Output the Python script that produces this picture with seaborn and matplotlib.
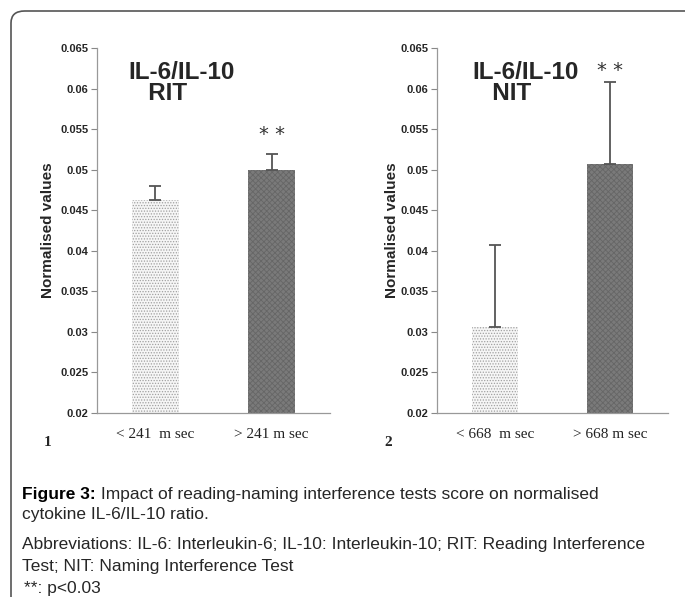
import matplotlib
matplotlib.use("Agg")
import matplotlib.pyplot as plt
import seaborn as sns
import pandas as pd
from matplotlib.patches import FancyBboxPatch

sns.set_style("white")
plt.rcParams['font.family'] = ['Liberation Sans', 'DejaVu Sans']
plt.rcParams['hatch.linewidth'] = 0.6

# data
rit_categories = ["< 241  m sec", "> 241 m sec"]
rit_values = [0.0462, 0.0500]
rit_errors = [0.0018, 0.0019]
nit_categories = ["< 668  m sec", "> 668 m sec"]
nit_values = [0.0306, 0.0507]
nit_errors = [0.0101, 0.0101]
y_ticks = [0.02, 0.025, 0.03, 0.035, 0.04, 0.045, 0.05, 0.055, 0.06, 0.065]
y_ticklabels = ["0.02", "0.025", "0.03", "0.035", "0.04", "0.045", "0.05", "0.055", "0.06", "0.065"]

fig = plt.figure(figsize=(6.85, 5.97), dpi=100)

# border
border = FancyBboxPatch((11/685, -0.05), 1.2, 1 - 11/597 + 0.05,
                        boxstyle="round,pad=0,rounding_size=0.02",
                        transform=fig.transFigure, fill=False,
                        edgecolor="#555555", linewidth=1.2, clip_on=False)
fig.patches.append(border)

panels = [
    dict(pos=[97/685, 1-413/597, 233/685, 365/597], cats=rit_categories, vals=rit_values,
         errs=rit_errors, title="IL-6/IL-10\n   RIT", tx=(128-97)/233,
         star_x=1, star_y=0.0543, num="1", ylab_x=-0.18),
    dict(pos=[437/685, 1-413/597, 231/685, 365/597], cats=nit_categories, vals=nit_values,
         errs=nit_errors, title="IL-6/IL-10\n   NIT", tx=(472-437)/231,
         star_x=1, star_y=0.0622, num="2", ylab_x=-0.165),
]

for p in panels:
    ax = fig.add_axes(p["pos"])
    df = pd.DataFrame({"cat": p["cats"], "val": p["vals"]})
    sns.barplot(data=df, x="cat", y="val", ax=ax, width=0.4,
                palette=["#f6f6f6", "#7a7a7a"], hue="cat", legend=False,
                linewidth=0, errorbar=None)
    hatches = ["......", "xxxxxx"]
    hcolors = ["#a0a0a0", "#666666"]
    for bar, h, hc in zip(ax.patches, hatches, hcolors):
        bar.set_hatch(h)
        bar.set_edgecolor(hc)
        bar.set_linewidth(0)
    ax.errorbar(range(len(p["vals"])), p["vals"], yerr=[[0]*len(p["errs"]), p["errs"]],
                fmt="none", ecolor="#555555", elinewidth=1.3, capsize=4.5, capthick=1.3)
    ax.set_ylim(0.02, 0.065)
    ax.set_xlim(-0.5, 1.5)
    ax.set_yticks(y_ticks)
    ax.set_yticklabels(y_ticklabels, fontsize=8, fontweight="bold")
    ax.set_xticks([0, 1])
    ax.set_xticklabels(p["cats"], fontsize=11, family=['Liberation Serif', 'DejaVu Serif'])
    ax.set_xticks([-0.5, 0.5, 1.5], minor=True)
    ax.tick_params(axis="x", which="major", length=0, pad=11, colors="#222222")
    ax.tick_params(axis="x", which="minor", length=4, direction="out", color="#888888")
    ax.tick_params(axis="y", length=4, direction="out", color="#888888", pad=2, left=True)
    ax.set_xlabel("")
    ax.set_ylabel("Normalised values", fontsize=11, fontweight="bold")
    ax.yaxis.set_label_coords(p["ylab_x"], 0.5)
    for s in ["top", "right"]:
        ax.spines[s].set_visible(False)
    for s in ["left", "bottom"]:
        ax.spines[s].set_color("#999999")
        ax.spines[s].set_linewidth(0.9)
    ax.text(p["tx"], 0.965, p["title"], transform=ax.transAxes, fontsize=17.5,
            fontweight="bold", ha="left", va="top", linespacing=0.9)
    ax.text(p["star_x"], p["star_y"], "* *", fontsize=14, ha="center", va="center",
            color="#333333", family=['DejaVu Sans'])
    ax.text(-0.21, -0.08, p["num"], transform=ax.transAxes, fontsize=11, fontweight="bold",
            family=['Liberation Serif', 'DejaVu Serif'], ha="center", va="center")

cap_font = ['Liberation Sans Narrow', 'Liberation Sans', 'DejaVu Sans']
cs = 12.5
t0 = fig.text(22/685, 1-494/597, "Figure 3:", fontsize=cs, va="center", family=cap_font,
              fontweight="bold", color="black")
plt.annotate(" Impact of reading-naming interference tests score on normalised",
             xy=(1, 0.5), xycoords=t0, va="center", ha="left",
             fontsize=cs, family=cap_font, annotation_clip=False)
fig.text(22/685, 1-514/597, "cytokine IL-6/IL-10 ratio.", fontsize=cs, va="center", family=cap_font)
fig.text(22/685, 1-545/597, "Abbreviations: IL-6: Interleukin-6; IL-10: Interleukin-10; RIT: Reading Interference",
         fontsize=cs, va="center", family=cap_font)
fig.text(22/685, 1-566/597, "Test; NIT: Naming Interference Test", fontsize=cs, va="center", family=cap_font)
fig.text(24/685, 1-588/597, "**: p<0.03", fontsize=cs, va="center", family=cap_font)

fig.savefig("out.png", dpi=100)
